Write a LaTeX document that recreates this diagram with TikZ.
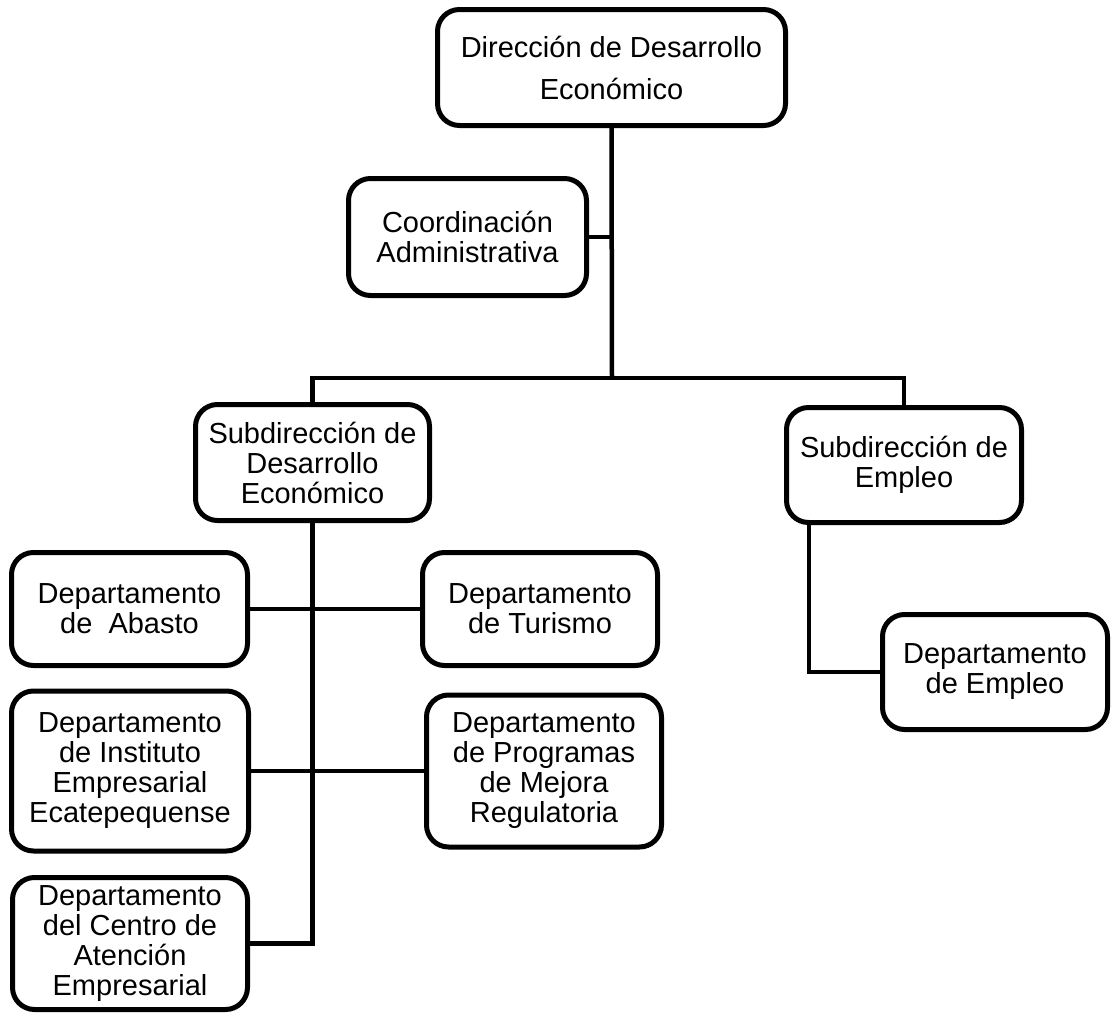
\documentclass[tikz,border=0pt]{standalone}
\usepackage{fontspec}
\setmainfont{Liberation Sans}
\begin{document}
\begin{tikzpicture}[x=1pt,y=-1pt,
  box/.style={draw, line width=5pt, rounded corners=22pt, align=center,
    inner sep=0pt, outer sep=0pt, font=\fontsize{29}{30}\selectfont},
  link/.style={line width=4.5pt}]
\useasboundingbox (0,0) rectangle (1112,1017);
% boxes
\node[box, minimum width=348, minimum height=116, font=\fontsize{29}{42}\selectfont] (dir) at (611.5,67.5) {Dirección de Desarrollo\\Económico};
\node[box, minimum width=238, minimum height=117] (coord) at (467.5,237) {Coordinación\\Administrativa};
\node[box, minimum width=234, minimum height=116] (subdes) at (312.5,462.5) {Subdirección de\\Desarrollo\\Económico};
\node[box, minimum width=235, minimum height=115] (subemp) at (904,465) {Subdirección de\\Empleo};
\node[box, minimum width=236, minimum height=113] (abasto) at (129.5,609) {Departamento\\de\ \ Abasto};
\node[box, minimum width=235, minimum height=113] (turismo) at (540,609) {Departamento\\de Turismo};
\node[box, minimum width=237, minimum height=160] (instituto) at (130,771) {Departamento\\de Instituto\\Empresarial\\Ecatepequense};
\node[box, minimum width=235, minimum height=152] (programas) at (544,771) {Departamento\\de Programas\\de Mejora\\Regulatoria};
\node[box, minimum width=235, minimum height=132] (centro) at (130,943.5) {Departamento\\del Centro de\\Atención\\Empresarial};
\node[box, minimum width=225, minimum height=115] (depemp) at (995,672) {Departamento\\de Empleo};
% junctions
\coordinate (j1) at (612,378);
\coordinate (e1) at (809,672);
% connectors
\draw[link] (dir.south) -- (j1);
\draw[link] (coord.east) -- (coord.east -| j1);
\draw[link] (subdes.north) |- (j1) -| (subemp.north);
\draw[link] (subdes.south) -- (subdes.south |- centro.east) -- (centro.east);
\draw[link] (abasto.east) -- (turismo.west);
\draw[link] (instituto.east) -- (programas.west);
\draw[link] (subemp.south -| e1) |- (depemp.west);
\end{tikzpicture}
\end{document}
